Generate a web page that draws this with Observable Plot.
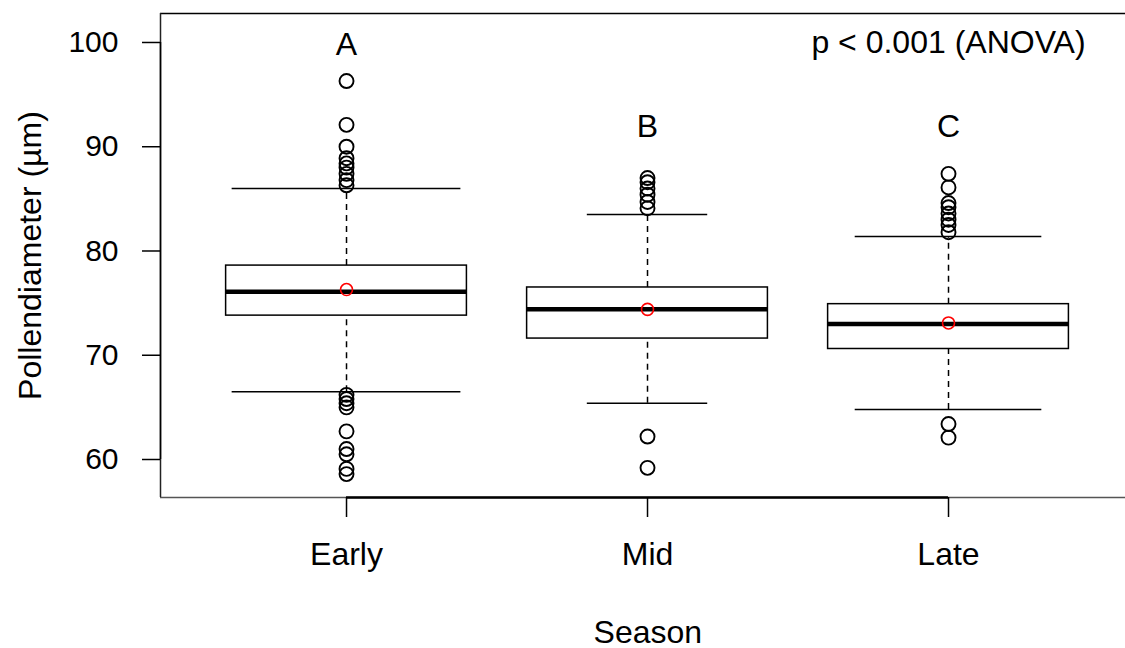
<!DOCTYPE html>
<html>
<head>
<meta charset="utf-8">
<script src="https://cdn.jsdelivr.net/npm/d3@7"></script>
<script src="https://cdn.jsdelivr.net/npm/@observablehq/plot@0.6"></script>
<style>
  html, body { margin: 0; padding: 0; background: #fff; overflow: hidden; }
  #chart svg { display: block; }
</style>
</head>
<body>
<div id="chart"></div>
<script>
// Pollen diameter by season: box summaries, outliers and group means
const seasons = ["Early", "Mid", "Late"];
const q1 = [73.8, 71.6, 70.6];
const medians = [76.1, 74.4, 73.0];
const q3 = [78.6, 76.5, 74.9];
const means = [76.3, 74.4, 73.1];
const whiskerLow = [66.5, 65.4, 64.8];
const whiskerHigh = [86.0, 83.5, 81.4];
const earlyOutliers = [96.3, 92.1, 90.0, 88.9, 88.4, 88.0, 87.4, 86.8, 86.3,
                       66.2, 65.8, 65.4, 65.0, 62.7, 61.0, 60.5, 59.1, 58.6];
const midOutliers = [87.0, 86.6, 86.0, 85.4, 84.7, 84.1, 62.2, 59.2];
const lateOutliers = [87.4, 86.1, 84.6, 84.2, 83.6, 83.0, 82.5, 81.8, 63.4, 62.1];
const groupLetters = ["A", "B", "C"];
const letterLevels = [99.8, 91.9, 91.9];
const yTicks = [60, 70, 80, 90, 100];
const testLabel = "p < 0.001 (ANOVA)";

// Build tidy rows from the arrays; x is the 1-based group position
const boxes = seasons.map((s, i) => ({
  season: s, pos: i + 1,
  q1: q1[i], median: medians[i], q3: q3[i], mean: means[i],
  lo: whiskerLow[i], hi: whiskerHigh[i],
  letter: groupLetters[i], letterY: letterLevels[i]
}));
const outliers = [earlyOutliers, midOutliers, lateOutliers]
  .flatMap((vals, i) => vals.map(v => ({pos: i + 1, value: v})));

const boxHalf = 0.4;     // half box width in group units
const capHalf = [0.38, 0.2, 0.31];  // staple half-widths per group
const font = "'Liberation Sans', Arial, Helvetica, sans-serif";
const xDomain = [0.382, 3.588];
const yDomain = [56.355, 102.78];
const labelSize = 32;

const chart = Plot.plot({
  width: 1125,
  height: 648,
  marginLeft: 160,
  marginRight: 0,
  marginTop: 13,
  marginBottom: 151,
  style: {fontFamily: font, fontSize: "30px", background: "#fff", color: "#000"},
  x: {domain: xDomain, axis: null},
  y: {domain: yDomain, axis: null},
  marks: [
    // plot frame (open to the right edge)
    Plot.ruleY([yDomain[1]], {stroke: "#000", strokeWidth: 1.5}),
    Plot.ruleY([yDomain[0]], {stroke: "#555", strokeWidth: 1.5}),
    Plot.ruleX([xDomain[0]], {stroke: "#222", strokeWidth: 1.5}),
    // y axis
    Plot.ruleX([xDomain[0]], {y1: yTicks[0], y2: yTicks[yTicks.length - 1], stroke: "#000", strokeWidth: 1.5}),
    Plot.axisY(yTicks, {anchor: "left", tickSize: 18, tickPadding: 24, strokeWidth: 1.5,
      fontSize: 30, label: null, tickFormat: d => d}),
    // x axis
    Plot.ruleY([yDomain[0]], {x1: 1, x2: seasons.length, stroke: "#000", strokeWidth: 2.5}),
    Plot.axisX(boxes.map(d => d.pos), {anchor: "bottom", tickSize: 20, tickPadding: 25, strokeWidth: 1.5,
      fontSize: labelSize, label: null, tickFormat: d => seasons[d - 1]}),
    // axis titles
    Plot.text(["Pollendiameter (µm)"], {frameAnchor: "left", textAnchor: "middle", dx: -130, rotate: -90, fontSize: labelSize}),
    Plot.text(["Season"], {x: (xDomain[0] + 3.62) / 2, frameAnchor: "bottom", dy: 145, fontSize: labelSize}),
    // whiskers (dashed) and staples
    Plot.ruleX(boxes, {x: "pos", y1: "q3", y2: "hi", stroke: "#000", strokeWidth: 1.5, strokeDasharray: "6,5"}),
    Plot.ruleX(boxes, {x: "pos", y1: "lo", y2: "q1", stroke: "#000", strokeWidth: 1.5, strokeDasharray: "6,5"}),
    Plot.ruleY(boxes, {y: "hi", x1: (d, i) => d.pos - capHalf[i], x2: (d, i) => d.pos + capHalf[i], stroke: "#000", strokeWidth: 1.5}),
    Plot.ruleY(boxes, {y: "lo", x1: (d, i) => d.pos - capHalf[i], x2: (d, i) => d.pos + capHalf[i], stroke: "#000", strokeWidth: 1.5}),
    // boxes
    Plot.rect(boxes, {x1: d => d.pos - boxHalf, x2: d => d.pos + boxHalf, y1: "q1", y2: "q3",
      fill: "#fff", stroke: "#000", strokeWidth: 1.5}),
    Plot.ruleY(boxes, {y: "median", x1: d => d.pos - boxHalf, x2: d => d.pos + boxHalf, stroke: "#000", strokeWidth: 4.5}),
    // outliers
    Plot.dot(outliers, {x: "pos", y: "value", r: 7, stroke: "#000", strokeWidth: 1.9, fill: "none"}),
    // group means
    Plot.dot(boxes, {x: "pos", y: "mean", r: 6, stroke: "#f00", strokeWidth: 1.6, fill: "none"}),
    // significance letters and test annotation
    Plot.text(boxes, {x: "pos", y: "letterY", text: "letter", fontSize: labelSize}),
    Plot.text([testLabel], {x: 3, y: 100, fontSize: labelSize})
  ]
});
document.getElementById("chart").append(chart);
</script>
</body>
</html>
